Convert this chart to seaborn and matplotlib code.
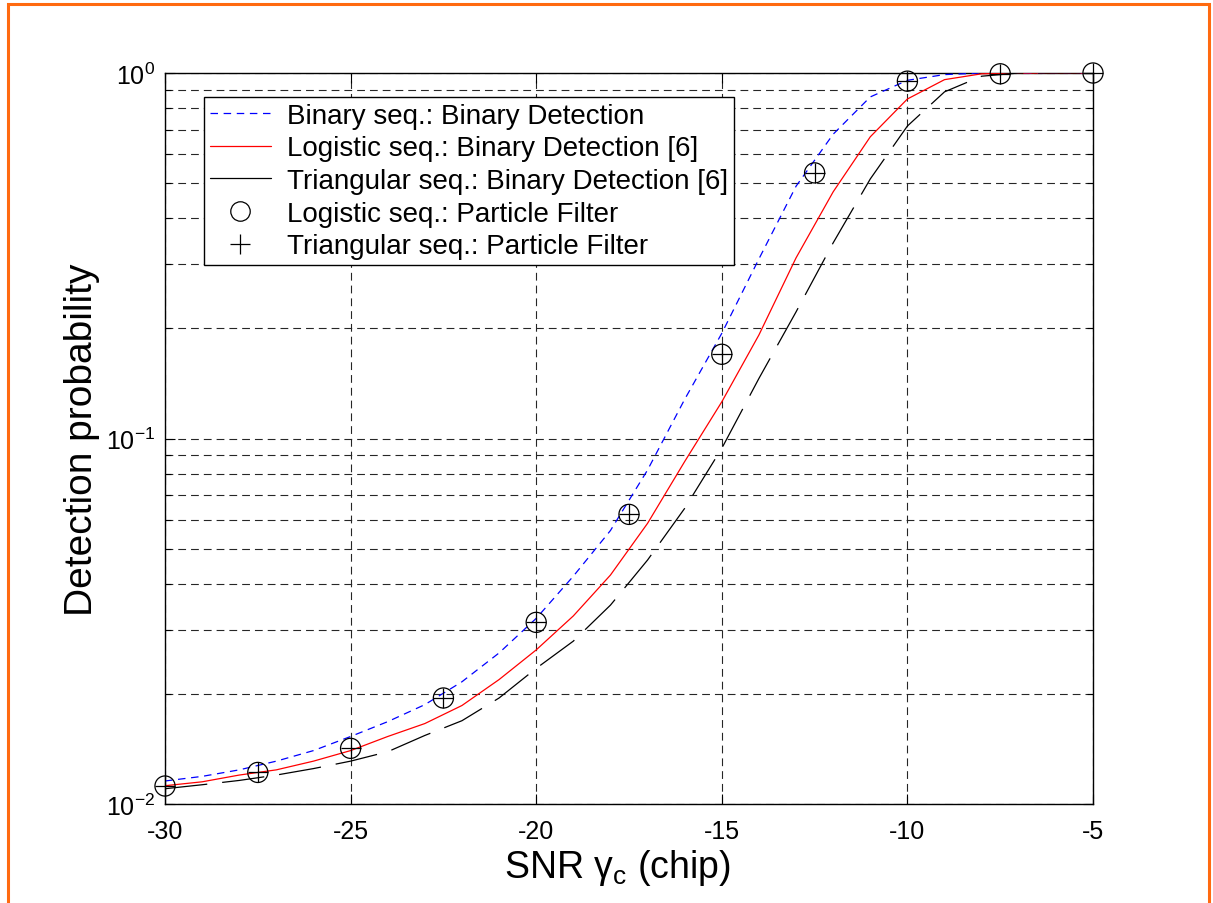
import numpy as np
import pandas as pd
import matplotlib
matplotlib.use("Agg")
import matplotlib.pyplot as plt
import seaborn as sns
from matplotlib.lines import Line2D
from matplotlib.patches import Rectangle
from matplotlib.ticker import LogLocator, NullFormatter, FixedLocator

# ---------------- data ----------------
snr = [-30, -29, -28, -27, -26, -25, -24, -23, -22, -21, -20, -19, -18,
       -17, -16, -15, -14, -13, -12, -11, -10, -9, -8, -7, -6, -5]
binary_bd = [0.01156, 0.0119, 0.0124, 0.0131, 0.0140, 0.0153, 0.0168, 0.0187,
             0.0216, 0.0259, 0.0322, 0.042, 0.056, 0.082, 0.128, 0.194, 0.31,
             0.49, 0.68, 0.86, 0.955, 0.99, 1.0, 1.0, 1.0, 1.0]
logistic_bd = [0.01122, 0.0115, 0.0120, 0.0124, 0.0131, 0.0140, 0.0153, 0.0166,
               0.0186, 0.0219, 0.0264, 0.0327, 0.0423, 0.0586, 0.0865, 0.126,
               0.192, 0.312, 0.473, 0.669, 0.849, 0.959, 0.995, 1.0, 1.0, 1.0]
triangular_bd = [0.01101, 0.01129, 0.0116, 0.0120, 0.0125, 0.0131, 0.0139,
                 0.0154, 0.0169, 0.0195, 0.0235, 0.0279, 0.035, 0.0465, 0.0644,
                 0.094, 0.146, 0.222, 0.343, 0.513, 0.716, 0.888, 0.98, 1.0,
                 1.0, 1.0]
snr_pf = [-30, -27.5, -25, -22.5, -20, -17.5, -15, -12.5, -10, -7.5, -5]
logistic_pf = [0.0112, 0.0122, 0.0142, 0.0195, 0.0314, 0.062, 0.17, 0.533,
               0.95, 0.995, 1.0]
triangular_pf = [0.0112, 0.0122, 0.0142, 0.0195, 0.0314, 0.062, 0.17, 0.533,
                 0.95, 0.995, 1.0]
legend_labels = ["Binary seq.: Binary Detection",
                 "Logistic seq.: Binary Detection [6]",
                 "Triangular seq.: Binary Detection [6]",
                 "Logistic seq.: Particle Filter",
                 "Triangular seq.: Particle Filter"]
x_ticks = [-30, -25, -20, -15, -10, -5]

# ---------------- style ----------------
sns.set_style("white")
plt.rcParams['font.family'] = ['Liberation Sans', 'DejaVu Sans']
plt.rcParams['mathtext.fontset'] = 'custom'
plt.rcParams['mathtext.rm'] = 'Liberation Sans'
plt.rcParams['mathtext.it'] = 'Liberation Sans:italic'
plt.rcParams['mathtext.bf'] = 'Liberation Sans:bold'
plt.rcParams['axes.unicode_minus'] = False
for k in ['text.color', 'axes.labelcolor', 'xtick.color', 'ytick.color',
          'xtick.labelcolor', 'ytick.labelcolor']:
    plt.rcParams[k] = 'black'

fig = plt.figure(figsize=(12.13, 9.04), dpi=100)
fig.patch.set_facecolor('white')
ax = fig.add_axes([165/1213, 1 - 805/904, (1093-165)/1213, (805-74)/904])

df = pd.DataFrame({"snr": snr, "binary": binary_bd,
                   "logistic": logistic_bd, "triangular": triangular_bd})
dfp = pd.DataFrame({"snr": snr_pf, "logistic": logistic_pf,
                    "triangular": triangular_pf})

sns.lineplot(data=df, x="snr", y="binary", ax=ax, color="blue", lw=0.9,
             linestyle=(0, (6, 4.5)), zorder=3)
sns.lineplot(data=df, x="snr", y="logistic", ax=ax, color="red", lw=0.9,
             zorder=3)
sns.lineplot(data=df, x="snr", y="triangular", ax=ax, color="black", lw=0.9,
             linestyle=(0, (34, 12)), zorder=3)
sns.scatterplot(data=dfp, x="snr", y="logistic", ax=ax, marker="o", s=210,
                facecolor="none", edgecolor="black", linewidth=0.9, zorder=4,
                clip_on=False)
sns.scatterplot(data=dfp, x="snr", y="triangular", ax=ax, marker="+", s=200,
                color="black", linewidth=0.9, zorder=4, clip_on=False)

ax.set_yscale("log")
ax.set_ylim(0.01, 1)
ax.set_xlim(-30, -5)
ax.xaxis.set_major_locator(FixedLocator(x_ticks))
ax.set_xticklabels([str(v) for v in x_ticks])
ax.yaxis.set_major_locator(LogLocator(base=10, numticks=10))
ax.yaxis.set_minor_locator(LogLocator(base=10, subs=np.arange(2, 10), numticks=20))
ax.yaxis.set_minor_formatter(NullFormatter())

grid_kw = dict(color="0.15", lw=0.8, linestyle=(0, (7, 4.5)))
ax.grid(True, which="major", axis="both", **grid_kw)
ax.grid(True, which="minor", axis="y", **grid_kw)
ax.set_axisbelow(True)

for s in ax.spines.values():
    s.set_color("black")
    s.set_linewidth(1.0)
    s.set_visible(True)

ax.tick_params(which="both", direction="in", top=True, right=True,
               bottom=True, left=True, color="black", width=0.8)
ax.tick_params(which="major", length=7, labelsize=18, pad=11)
ax.tick_params(which="minor", length=4)
ax.tick_params(axis="y", which="major", pad=7)

ax.set_xlabel(r"SNR $\mathregular{\gamma_c}$ (chip)", fontsize=27)
ax.set_ylabel("Detection probability", fontsize=28)
ax.xaxis.set_label_coords(0.487, -0.059)
ax.yaxis.set_label_coords(-0.070, 0.5)

handles = [
    Line2D([], [], color="blue", lw=0.9, linestyle=(0, (6, 4.5))),
    Line2D([], [], color="red", lw=0.9),
    Line2D([], [], color="black", lw=0.9),
    Line2D([], [], color="black", marker="o", markersize=14, markerfacecolor="none",
           markeredgewidth=0.9, linestyle="none"),
    Line2D([], [], color="black", marker="+", markersize=14,
           markeredgewidth=0.9, linestyle="none"),
]
leg = ax.legend(handles, legend_labels, loc="upper left",
                bbox_to_anchor=((204-165)/928, 1 - (98-74)/731),
                borderaxespad=0, fontsize=20, frameon=True, fancybox=False,
                framealpha=1, edgecolor="black", borderpad=0.2,
                labelspacing=0.24, handlelength=2.2, handletextpad=0.6)
leg.get_frame().set_linewidth(1.0)
for t in leg.get_texts():
    t.set_color("black")

fig.add_artist(Rectangle((7.5/1213, -0.05), (1209-7.5)/1213, 1.05 - 5/904,
                         transform=fig.transFigure, fill=False,
                         edgecolor="#FF6A10", lw=2.2))

fig.savefig("out.png", dpi=100, facecolor="white")
